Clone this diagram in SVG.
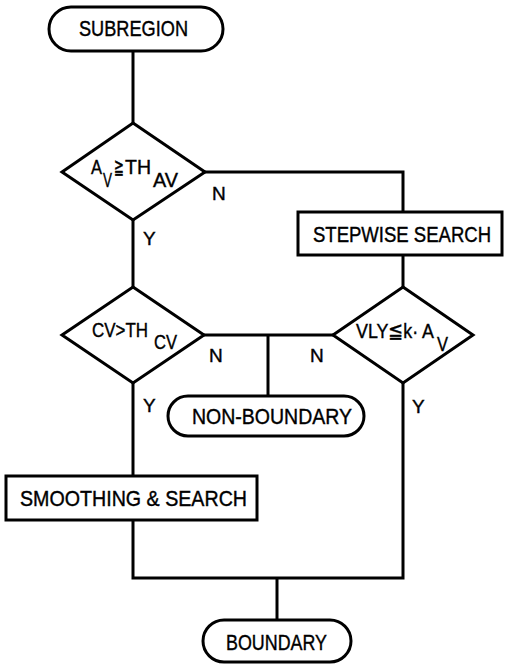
<svg xmlns="http://www.w3.org/2000/svg" width="506" height="667" viewBox="0 0 506 667">
<style>
.s{fill:#fff;stroke:#000;stroke-width:3}
.c{fill:none;stroke:#000;stroke-width:3}
text{font-family:"Liberation Sans","DejaVu Sans",sans-serif;fill:#000;stroke:#000;stroke-width:0.4}
.b{font-size:22px}
.d{font-size:21px}
.l{font-size:19px}
</style>
<rect width="506" height="667" fill="#fff" stroke="none"/>
<g id="connectors">
<polyline class="c" points="133,51 133,123"/>
<polyline class="c" points="205,172 403,172 403,212"/>
<polyline class="c" points="403,255 403,287"/>
<polyline class="c" points="133,220 133,287"/>
<polyline class="c" points="204,335 333,335"/>
<polyline class="c" points="268,335 268,396"/>
<polyline class="c" points="133,383 133,476"/>
<polyline class="c" points="133,520 133,578 403,578 403,383"/>
<polyline class="c" points="277,578 277,620"/>
<text class="l" x="212" y="200">N</text>
<text class="l" x="143" y="245">Y</text>
<text class="l" x="209" y="362">N</text>
<text class="l" x="310" y="362">N</text>
<text class="l" x="143" y="412">Y</text>
<text class="l" x="412" y="413">Y</text>
</g>
<g id="subregion">
<rect class="s" x="49" y="7" width="174" height="44" rx="22"/>
<text class="b" x="79" y="36" textLength="109" lengthAdjust="spacingAndGlyphs">SUBREGION</text>
</g>
<g id="decision-av">
<polygon class="s" points="133,123 205,172 133,220 62,172"/>
<text class="d" x="91" y="174" textLength="11" lengthAdjust="spacingAndGlyphs">A</text>
<text class="d" x="103" y="187" textLength="9" lengthAdjust="spacingAndGlyphs">V</text>
<text class="d" x="114" y="174" textLength="10" lengthAdjust="spacingAndGlyphs">≧</text>
<text class="d" x="125" y="174" textLength="26" lengthAdjust="spacingAndGlyphs">TH</text>
<text class="d" x="153" y="187" textLength="25" lengthAdjust="spacingAndGlyphs">AV</text>
</g>
<g id="stepwise-search">
<rect class="s" x="298" y="212" width="204" height="43"/>
<text class="b" x="313" y="242" textLength="178" lengthAdjust="spacingAndGlyphs">STEPWISE SEARCH</text>
</g>
<g id="decision-cv">
<polygon class="s" points="133,287 204,335 133,383 62,335"/>
<text class="d" x="92" y="337" textLength="56" lengthAdjust="spacingAndGlyphs">CV&gt;TH</text>
<text class="d" x="154" y="349" textLength="23" lengthAdjust="spacingAndGlyphs">CV</text>
</g>
<g id="decision-vly">
<polygon class="s" points="403,287 473,335 403,383 333,335"/>
<text class="d" x="356" y="338" textLength="78" lengthAdjust="spacingAndGlyphs">VLY≦k· A</text>
<text class="d" x="437" y="351" textLength="11" lengthAdjust="spacingAndGlyphs">V</text>
</g>
<g id="non-boundary">
<rect class="s" x="168" y="396" width="196" height="40" rx="20"/>
<text class="b" x="192" y="424" textLength="160" lengthAdjust="spacingAndGlyphs">NON-BOUNDARY</text>
</g>
<g id="smoothing-search">
<rect class="s" x="6" y="476" width="251" height="44"/>
<text class="b" x="20" y="506" textLength="227" lengthAdjust="spacingAndGlyphs">SMOOTHING &amp; SEARCH</text>
</g>
<g id="boundary">
<rect class="s" x="203" y="620" width="148" height="42" rx="21"/>
<text class="b" x="226" y="650" textLength="101" lengthAdjust="spacingAndGlyphs">BOUNDARY</text>
</g>
</svg>
